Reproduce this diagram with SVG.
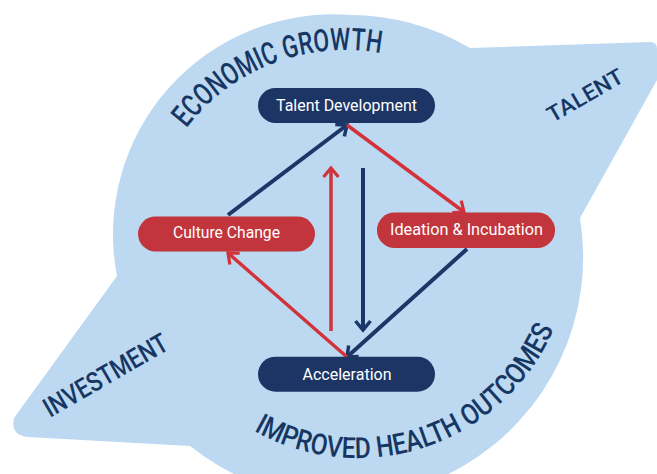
<svg xmlns="http://www.w3.org/2000/svg" width="657" height="474" viewBox="0 0 657 474">
  <style>
    .bg { fill: #bdd9f1; }
    .navy-node { fill: #1d3565; }
    .red-node { fill: #c2353c; }
    .node-text { font-family: Roboto, "Liberation Sans", sans-serif; font-weight: 400; font-size: 16px; fill: #ffffff; text-anchor: middle; }
    .big { font-family: Roboto, "Liberation Sans", sans-serif; font-weight: 500; fill: #163764; }
    .navy { stroke: #1b3768; stroke-width: 4; fill: none; }
    .red { stroke: #d2333a; stroke-width: 3.5; fill: none; }
  </style>
  <defs>
    <marker id="ah-navy" markerUnits="userSpaceOnUse" viewBox="-14 -11 18 22" markerWidth="18" markerHeight="22" refX="0" refY="0" orient="auto">
      <path d="M -9,-7.5 L 0,0 L -9,7.5" fill="none" stroke="#1b3768" stroke-width="3.5"/>
    </marker>
    <marker id="ah-red" markerUnits="userSpaceOnUse" viewBox="-14 -11 18 22" markerWidth="18" markerHeight="22" refX="0" refY="0" orient="auto">
      <path d="M -9,-7.5 L 0,0 L -9,7.5" fill="none" stroke="#d2333a" stroke-width="3.2"/>
    </marker>
    <path id="arc-top" d="M 186.3 128.2 A 200 200 0 0 1 380.4 53.2"/>
    <path id="arc-bottom" d="M 253.8 430.8 A 213 213 0 0 0 553.8 328.9"/>
  </defs>

  <g id="background">
    <path class="bg" d="M 117 276 A 220 220 0 0 1 350 15 A 240 240 0 0 1 470 48 L 650 42 Q 657 42 657 49 L 657 80 L 580 218 A 242 242 0 0 1 190 446 L 28 437 Q 10 435 14 418 Z"/>
  </g>

  <g id="labels">
    <text class="big" font-size="31"><textPath href="#arc-top" startOffset="0" textLength="116.6" lengthAdjust="spacingAndGlyphs">ECONOMIC</textPath></text>
    <text class="big" font-size="31"><textPath href="#arc-top" startOffset="122.5" textLength="96.5" lengthAdjust="spacingAndGlyphs">GROWTH</textPath></text>
    <text class="big" font-size="29"><textPath href="#arc-bottom" startOffset="0" textLength="122" lengthAdjust="spacingAndGlyphs">IMPROVED</textPath></text>
    <text class="big" font-size="29"><textPath href="#arc-bottom" startOffset="128.3" textLength="90.2" lengthAdjust="spacingAndGlyphs">HEALTH</textPath></text>
    <text class="big" font-size="29"><textPath href="#arc-bottom" startOffset="224.9" textLength="132.1" lengthAdjust="spacingAndGlyphs">OUTCOMES</textPath></text>
    <text class="big" font-size="22" transform="translate(552.6 123) rotate(-30)" textLength="84" lengthAdjust="spacingAndGlyphs">TALENT</text>
    <text class="big" font-size="27" transform="translate(50 418) rotate(-30)" textLength="139" lengthAdjust="spacingAndGlyphs">INVESTMENT</text>
  </g>

  <g id="connectors">
    <line class="navy" x1="228" y1="215" x2="347" y2="125" marker-end="url(#ah-navy)"/>
    <line class="red" x1="347" y1="125" x2="464" y2="212" marker-end="url(#ah-red)"/>
    <line class="navy" x1="467" y1="249" x2="347" y2="357" marker-end="url(#ah-navy)"/>
    <line class="red" x1="347" y1="357" x2="228" y2="253" marker-end="url(#ah-red)"/>
    <line class="red" x1="331" y1="331" x2="331" y2="168" marker-end="url(#ah-red)"/>
    <line class="navy" x1="363" y1="168" x2="363" y2="330" marker-end="url(#ah-navy)"/>
  </g>

  <g id="talent-development">
    <rect class="navy-node" x="258" y="88" width="177" height="35" rx="17.5"/>
    <text class="node-text" x="346.5" y="111" textLength="141" lengthAdjust="spacingAndGlyphs">Talent Development</text>
  </g>
  <g id="culture-change">
    <rect class="red-node" x="138" y="216.5" width="177" height="35" rx="17.5"/>
    <text class="node-text" x="226.5" y="237.5" textLength="107" lengthAdjust="spacingAndGlyphs">Culture Change</text>
  </g>
  <g id="ideation-incubation">
    <rect class="red-node" x="377" y="212.5" width="178" height="35.5" rx="17.5"/>
    <text class="node-text" x="466.5" y="235" textLength="153" lengthAdjust="spacingAndGlyphs">Ideation &amp; Incubation</text>
  </g>
  <g id="acceleration">
    <rect class="navy-node" x="258" y="356.7" width="177" height="35" rx="17.5"/>
    <text class="node-text" x="347" y="379.5" textLength="89" lengthAdjust="spacingAndGlyphs">Acceleration</text>
  </g>
</svg>
